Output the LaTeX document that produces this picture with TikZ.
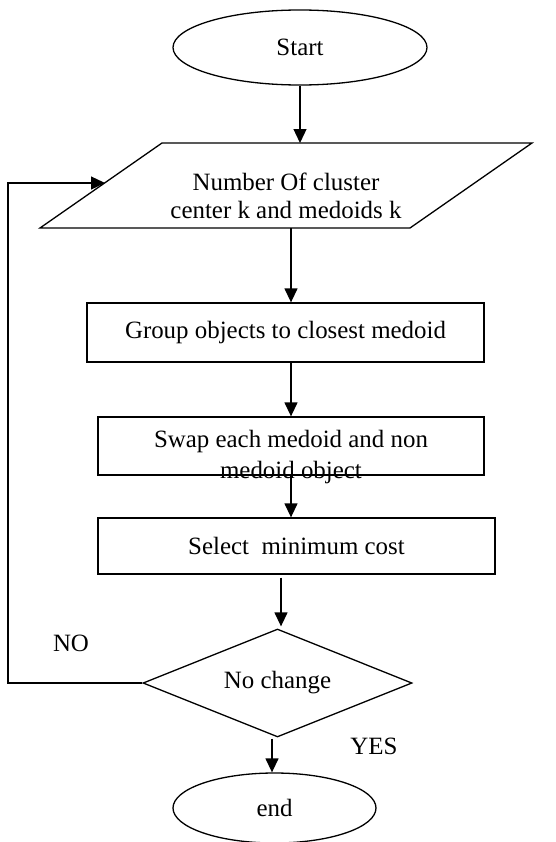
\documentclass[tikz,border=0pt]{standalone}
\usepackage{fontspec}
\setmainfont{Liberation Serif}
\usetikzlibrary{shapes.geometric,arrows.meta}
\begin{document}
\begin{tikzpicture}[x=1bp,y=-1bp,
  font=\fontsize{25}{30}\selectfont,
  every path/.style={line width=1.3bp},
  arr/.style={-{Triangle[length=14bp,width=13bp]}},
  term/.style={draw,ellipse,inner sep=0pt},
  proc/.style={draw,rectangle,inner sep=0pt},
  decide/.style={draw,diamond,aspect=2.5,inner sep=0pt,minimum width=269bp,minimum height=108bp},
  lbl/.style={inner sep=0pt}]
\useasboundingbox (0,0) rectangle (556,842);
% terminals
\node[term,minimum width=254bp,minimum height=75bp] (start) at (300,47.5) {Start};
\node[term,minimum width=203bp,minimum height=70bp] (end) at (274.5,808) {end};
% parallelogram
\coordinate (ptl) at (162,143);
\coordinate (ptr) at (532,143);
\coordinate (pbr) at (410,228);
\coordinate (pbl) at (40,228);
\draw (ptl) -- (ptr) -- (pbr) -- (pbl) -- cycle;
\node[lbl,align=center] (para) at (286,196) {Number Of cluster\\[-2pt]center k and medoids k};
\coordinate (ptop) at (300,143);
\coordinate (pbot) at (291,228);
\coordinate (pin) at (105,183);
% boxes
\node[proc,minimum width=397bp,minimum height=59bp] (group) at (285.5,332.5) {Group objects to closest medoid};
\node[proc,minimum width=386bp,minimum height=58bp] (swap) at (291,446) {};
\node[lbl,align=center] (swapt) at (291,457) {Swap each medoid and non\\[1pt]medoid object};
\node[proc,minimum width=397bp,minimum height=56bp] (sel) at (296.5,546) {Select\ \ minimum cost};
% decision
\node[decide] (dia) at (277.5,683) {No change};
% labels
\node[lbl] (no) at (71,643) {NO};
\node[lbl] (yes) at (374,746) {YES};
% x positions of connectors
\coordinate (xa) at (291,0);
\coordinate (xb) at (281,0);
\coordinate (xc) at (272,0);
\coordinate (loopx) at (8,0);
% connectors
\draw[arr] (start.south) -- (ptop);
\draw[arr] (pbot) -- (group.north -| xa);
\draw[arr] (group.south -| xa) -- (swap.north -| xa);
\draw[arr] (swap.south -| xa) -- (sel.north -| xa);
\draw[arr] ([yshift=-3bp]sel.south -| xb) -- ([yshift=2bp]dia.north -| xb);
\draw[arr] ([yshift=-1bp]dia.south -| xc) -- (end.north -| xc);
\draw[arr] (dia.west) -- (dia.west -| loopx) |- (pin);
\end{tikzpicture}
\end{document}
